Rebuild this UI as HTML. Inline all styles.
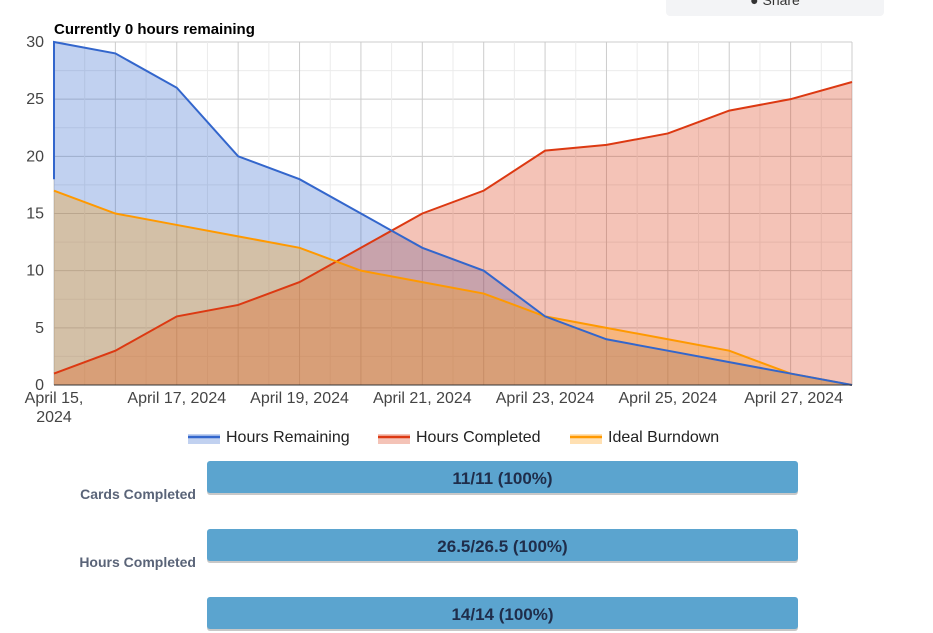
<!DOCTYPE html>
<html><head><meta charset="utf-8"><style>
body{margin:0;width:933px;height:618px;overflow:hidden;background:#fff;font-family:"Liberation Sans",sans-serif;position:relative}
.share{position:absolute;left:666px;top:-8px;width:218px;height:24px;background:#f3f4f6;border-radius:4px;text-align:center;font-size:14px;color:#333;line-height:16px}
.lbl{position:absolute;width:190px;left:6px;text-align:right;font-weight:bold;font-size:14px;color:#5a6478}
.bar{position:absolute;left:207px;width:591px;height:32px;background:#5ba4cf;border-radius:3px;box-shadow:0 2px 0 #c8c8c8;text-align:center;font-weight:bold;font-size:17px;line-height:36px;color:#1f2d4a}
</style></head><body>
<div class="share">● Share</div>
<svg id="chart" width="933" height="460" style="position:absolute;left:0;top:0"></svg>
<div class="lbl" style="top:486px">Cards Completed</div>
<div class="bar" style="top:461px">11/11 (100%)</div>
<div class="lbl" style="top:554px">Hours Completed</div>
<div class="bar" style="top:529px">26.5/26.5 (100%)</div>
<div class="bar" style="top:597px">14/14 (100%)</div>
<script>
const dates=["April 15, 2024","April 16, 2024","April 17, 2024","April 18, 2024","April 19, 2024","April 20, 2024","April 21, 2024","April 22, 2024","April 23, 2024","April 24, 2024","April 25, 2024","April 26, 2024","April 27, 2024","April 28, 2024"];
const remainingStart=18;
const remaining=[30,29,26,20,18,15,12,10,6,4,3,2,1,0];
const completed=[1,3,6,7,9,12,15,17,20.5,21,22,24,25,26.5];
const ideal=[17,15,14,13,12,10,9,8,6,5,4,3,1,0];
const yTicks=[0,5,10,15,20,25,30];
const NS="http://www.w3.org/2000/svg";
const svg=document.getElementById('chart');
const L=54,R=852,T=42,B=385;
const x=i=>L+(R-L)*i/(dates.length-1);
const y=v=>B-(B-T)*v/30;
function el(t,a){const e=document.createElementNS(NS,t);for(const k in a)e.setAttribute(k,a[k]);svg.appendChild(e);return e;}
for(let v=0;v<=30;v+=2.5){const g=el('line',{x1:L,x2:R,y1:y(v),y2:y(v),stroke:v%5===0?'#ccc':'#ebebeb'});

}
for(let i=0;i<dates.length-0.5;i+=0.5){const g=el('line',{x1:x(i),x2:x(i),y1:T,y2:B,stroke:i%1===0?'#ccc':'#ebebeb'});

}
function area(vals,color,name){
 const pts=vals.map((v,i)=>x(i)+','+y(v));
 const a=el('polygon',{points:x(0)+','+B+' '+pts.join(' ')+' '+x(vals.length-1)+','+B,fill:color,'fill-opacity':0.3});
 
 
}
function line(vals,color,name,start){
 let pts=vals.map((v,i)=>x(i)+','+y(v));
 if(start!==undefined)pts=[x(0)+','+y(start)].concat(pts);
 const ln=el('polyline',{points:pts.join(' '),fill:'none',stroke:color,'stroke-width':2});
 
 
}
area(remaining,'#3366cc','hours-remaining');
area(completed,'#dc3912','hours-completed');
area(ideal,'#ff9900','ideal-burndown');
line(completed,'#dc3912','hours-completed');
line(ideal,'#ff9900','ideal-burndown');
line(remaining,'#3366cc','hours-remaining',remainingStart);
const ax=el('line',{x1:L,x2:R,y1:B,y2:B,stroke:'#333','stroke-width':1});


yTicks.forEach(v=>{const t=el('text',{x:44,y:y(v)+5,'text-anchor':'end','font-size':16,fill:'#444'});t.textContent=v;

});
dates.forEach((d,i)=>{if(i%2)return;let t;
 if(i===0){t=el('text',{x:x(0),y:403,'text-anchor':'middle','font-size':16,fill:'#444'});t.innerHTML='<tspan x="'+x(0)+'">April 15,</tspan><tspan x="'+x(0)+'" dy="19">2024</tspan>';}
 else{t=el('text',{x:x(i)-(i===12?-3:0),y:403,'text-anchor':'middle','font-size':16,fill:'#444'});t.textContent=d;}
 
 });
const title=el('text',{x:54,y:34,'font-size':15,'font-weight':'bold',fill:'#000'});title.textContent='Currently 0 hours remaining';


const legend=[['Hours Remaining','#3366cc',188],['Hours Completed','#dc3912',378],['Ideal Burndown','#ff9900',570]];
legend.forEach(([n,c,lx])=>{
 const g=document.createElementNS(NS,'g');svg.appendChild(g);
 
 
 const r=document.createElementNS(NS,'rect');for(const [k,v] of Object.entries({x:lx,y:434,width:32,height:10,fill:c,'fill-opacity':0.3}))r.setAttribute(k,v);g.appendChild(r);
 const l=document.createElementNS(NS,'line');for(const [k,v] of Object.entries({x1:lx,x2:lx+32,y1:437,y2:437,stroke:c,'stroke-width':2.5}))l.setAttribute(k,v);g.appendChild(l);
 const t=document.createElementNS(NS,'text');for(const [k,v] of Object.entries({x:lx+38,y:442,'font-size':16,fill:'#222'}))t.setAttribute(k,v);t.textContent=n;g.appendChild(t);
});
</script>
</body></html>
